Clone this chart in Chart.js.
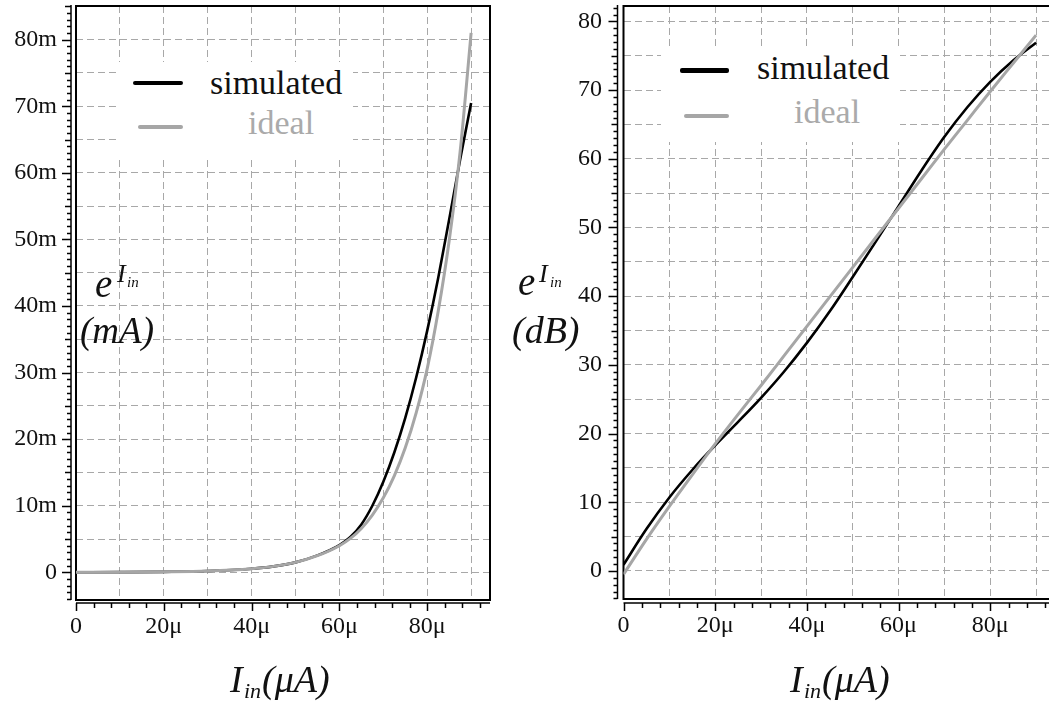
<!DOCTYPE html>
<html lang="en">
<head>
  <meta charset="UTF-8">
  <title>Exponential current: simulated vs ideal</title>
  <script src="https://cdn.jsdelivr.net/npm/chart.js"></script>
  <style>
    html, body { margin: 0; padding: 0; width: 1049px; height: 707px; overflow: hidden; background: #fff; }
    body { position: relative; font-family: 'Liberation Serif', 'DejaVu Serif', serif; color: #000; }
    canvas { position: absolute; top: 0; }
    .lbl { position: absolute; white-space: nowrap; line-height: 1; font-style: italic; color: #111; }
    .legend { position: absolute; background: #fff; }
    .legend .swatch { position: absolute; border-radius: 2px; }
    .legend .name { position: absolute; font-size: 34px; line-height: 1; white-space: nowrap; }
  </style>
</head>
<body>

  <canvas id="linChart" width="500" height="707" style="left:0"></canvas>
  <canvas id="dbChart" width="600" height="707" style="left:500px"></canvas>

  <!-- axis labels (need sub/superscripts, so they are plain html text) -->
  <div class="lbl" style="left:95px; top:264px; font-size:39px">e</div>
  <div class="lbl" style="left:117px; top:261px; font-size:26px">I</div>
  <div class="lbl" style="left:127px; top:275px; font-size:15px">in</div>
  <div class="lbl" style="left:80px; top:312px; font-size:37px">(mA)</div>

  <div class="lbl" style="left:518px; top:262px; font-size:39px">e</div>
  <div class="lbl" style="left:539px; top:261px; font-size:26px">I</div>
  <div class="lbl" style="left:550px; top:275px; font-size:15px">in</div>
  <div class="lbl" style="left:512px; top:311px; font-size:38px">(dB)</div>

  <div class="lbl" style="left:230px; top:660px; font-size:38px">I</div>
  <div class="lbl" style="left:244px; top:680px; font-size:22px">in</div>
  <div class="lbl" style="left:262px; top:660px; font-size:38px">(μA)</div>

  <div class="lbl" style="left:790px; top:660px; font-size:38px">I</div>
  <div class="lbl" style="left:804px; top:680px; font-size:22px">in</div>
  <div class="lbl" style="left:822px; top:660px; font-size:38px">(μA)</div>

  <div id="linLegend" class="legend" style="left:118px; top:62px; width:235px; height:95px"></div>
  <div id="dbLegend" class="legend" style="left:661px; top:47px; width:239px; height:95px"></div>

  <script>
    // --- DATA ---
    const seriesNames = ['simulated', 'ideal'];

    // left plot: linear current, mA against Iin in uA
    const linCurrent   = [0, 10, 20, 30, 40, 45, 50, 55, 60, 62.5, 65, 67.5, 70, 72.5, 75, 77.5, 80, 82.5, 85, 87.5, 90];
    const linSimulated = [0.01, 0.03, 0.08, 0.2, 0.55, 0.9, 1.5, 2.55, 4.1, 5.3, 7.2, 10.0, 13.6, 18.0, 23.2, 29.3, 36.3, 44.2, 53.0, 62.0, 70.5];
    const linIdeal     = [0.01, 0.03, 0.08, 0.2, 0.55, 0.9, 1.5, 2.5, 4.0, 5.1, 6.6, 8.6, 11.2, 14.5, 18.7, 24.0, 30.6, 39.2, 49.8, 63.2, 81.0];

    // right plot: same thing in dB
    const dbCurrent   = [0, 5, 10, 15, 20, 25, 30, 35, 40, 45, 50, 55, 60, 65, 70, 75, 80, 85, 90];
    const dbSimulated = [0.9, 6.1, 10.7, 14.7, 18.3, 21.7, 25.2, 29.0, 33.2, 37.8, 42.8, 47.9, 53.1, 58.3, 63.2, 67.5, 71.2, 74.3, 76.9];
    const dbIdeal     = [-0.5, 4.6, 9.4, 14.0, 18.5, 22.8, 27.0, 31.3, 35.6, 39.9, 44.2, 48.5, 52.8, 57.1, 61.4, 65.6, 69.8, 73.9, 78.0];

    // tick labels
    const xTickValues = [0, 20, 40, 60, 80];
    const xTickLabels = ['0', '20μ', '40μ', '60μ', '80μ'];
    const linTickValues = [0, 10, 20, 30, 40, 50, 60, 70, 80];
    const linTickLabels = ['0', '10m', '20m', '30m', '40m', '50m', '60m', '70m', '80m'];
    const dbTickValues = [0, 10, 20, 30, 40, 50, 60, 70, 80];
    const dbTickLabels = ['0', '10', '20', '30', '40', '50', '60', '70', '80'];

    const COLORS = ['#000000', '#a6a6a6'];
    const TEXT_COLORS = ['#111111', '#aaaaaa'];
    const FONT = 'Liberation Serif';

    const toPoints = (xs, ys) => xs.map((x, i) => ({ x: x, y: ys[i] }));

    // --- box + offset axes with the small ticks ---
    const framePlugin = {
      id: 'frame',
      beforeDatasetsDraw(chart, args, opts) {
        const { ctx, chartArea: a, scales: { x, y } } = chart;
        ctx.save();
        ctx.strokeStyle = '#000';
        ctx.lineWidth = 2;
        ctx.strokeRect(a.left, a.top, a.right - a.left, a.bottom - a.top);

        ctx.lineWidth = 1.5;
        ctx.beginPath();
        const ax = a.left - opts.gapX;
        ctx.moveTo(ax, a.top - 1);
        ctx.lineTo(ax, a.bottom);
        for (let v = Math.ceil(y.min); v <= y.max; v += 1) {
          const py = Math.round(y.getPixelForValue(v)) + 0.5;
          const len = v % 10 === 0 ? 9 : (v % 5 === 0 ? 6 : 4);
          ctx.moveTo(ax - len, py);
          ctx.lineTo(ax, py);
        }
        const by = a.bottom + opts.gapY;
        ctx.moveTo(a.left, by);
        ctx.lineTo(a.right, by);
        for (let v = 0; v <= x.max; v += 4) {
          const px = Math.round(x.getPixelForValue(v)) + 0.5;
          const len = v % 20 === 0 ? 8 : 5;
          ctx.moveTo(px, by);
          ctx.lineTo(px, by + len);
        }
        ctx.stroke();
        ctx.restore();
      }
    };

    function pickLabel(values, labels) {
      return (v) => {
        const i = values.indexOf(Math.round(v * 1000) / 1000);
        return i >= 0 ? labels[i] : '';
      };
    }

    function makeChart(id, cfg) {
      const ctx = document.getElementById(id).getContext('2d');
      return new Chart(ctx, {
        type: 'line',
        data: {
          datasets: [
            {
              label: seriesNames[0],
              data: toPoints(cfg.xs, cfg.sim),
              borderColor: COLORS[0],
              borderWidth: 2.6,
              order: 1
            },
            {
              label: seriesNames[1],
              data: toPoints(cfg.xs, cfg.ideal),
              borderColor: COLORS[1],
              borderWidth: 3,
              order: 0
            }
          ]
        },
        options: {
          responsive: false,
          animation: false,
          devicePixelRatio: 1,
          layout: { padding: { left: 0, top: 6, right: cfg.padRight, bottom: 0 } },
          elements: {
            point: { radius: 0 },
            line: { cubicInterpolationMode: 'monotone', fill: false }
          },
          plugins: {
            legend: { display: false },
            tooltip: { enabled: false },
            frame: { gapX: cfg.gapX, gapY: cfg.gapY }
          },
          scales: {
            x: {
              type: 'linear',
              min: 0,
              max: cfg.xMax,
              grid: { color: '#a8a8a8', lineWidth: 1, drawTicks: false },
              border: { display: false, dash: [7, 4] },
              ticks: {
                stepSize: 10,
                includeBounds: false,
                maxRotation: 0,
                autoSkip: false,
                padding: 12,
                color: '#111',
                font: { family: FONT, size: 24 },
                callback: pickLabel(xTickValues, xTickLabels)
              },
              afterFit: (s) => { s.height = cfg.xAxisHeight; s.paddingLeft = 0; s.paddingRight = 0; }
            },
            y: {
              type: 'linear',
              min: cfg.yMin,
              max: cfg.yMax,
              grid: { color: '#a8a8a8', lineWidth: 1, drawTicks: false },
              border: { display: false, dash: [7, 4] },
              ticks: {
                stepSize: 5,
                includeBounds: false,
                autoSkip: false,
                padding: cfg.yPad,
                color: '#111',
                font: { family: FONT, size: 24 },
                callback: pickLabel(cfg.yTickValues, cfg.yTickLabels)
              },
              afterFit: (s) => { s.width = cfg.yAxisWidth; s.paddingTop = 0; s.paddingBottom = 0; }
            }
          }
        },
        plugins: [framePlugin]
      });
    }

    // legend box drawn as html, fed from the datasets
    function buildLegend(boxId, chart, items) {
      const box = document.getElementById(boxId);
      chart.data.datasets.forEach((ds, i) => {
        const it = items[i];
        const sw = document.createElement('div');
        sw.className = 'swatch';
        sw.style.cssText = `left:${it.sx}px; top:${it.sy}px; width:${it.sw}px; height:${it.sh}px; background:${ds.borderColor}`;
        const nm = document.createElement('div');
        nm.className = 'name';
        nm.style.cssText = `left:${it.tx}px; top:${it.ty}px; color:${TEXT_COLORS[i]}`;
        nm.textContent = ds.label;
        box.appendChild(sw);
        box.appendChild(nm);
      });
    }

    const linChart = makeChart('linChart', {
      xs: linCurrent, sim: linSimulated, ideal: linIdeal,
      xMax: 94.3, yMin: -4.15, yMax: 85.05,
      yTickValues: linTickValues, yTickLabels: linTickLabels,
      yAxisWidth: 76, xAxisHeight: 107, padRight: 10, yPad: 19,
      gapX: 5, gapY: 3
    });

    const dbChart = makeChart('dbChart', {
      xs: dbCurrent, sim: dbSimulated, ideal: dbIdeal,
      xMax: 95, yMin: -4.08, yMax: 82.24,
      yTickValues: dbTickValues, yTickLabels: dbTickLabels,
      yAxisWidth: 123.5, xAxisHeight: 108, padRight: 41, yPad: 21.5,
      gapX: 6, gapY: 4
    });

    buildLegend('linLegend', linChart, [
      { sx: 15, sy: 19, sw: 50, sh: 4, tx: 92, ty: 3.5 },
      { sx: 20, sy: 63, sw: 45, sh: 4, tx: 130, ty: 44 }
    ]);
    buildLegend('dbLegend', dbChart, [
      { sx: 19, sy: 21, sw: 49, sh: 5, tx: 96, ty: 4 },
      { sx: 23, sy: 66.5, sw: 45, sh: 4, tx: 133, ty: 47.5 }
    ]);
  </script>

</body>
</html>
